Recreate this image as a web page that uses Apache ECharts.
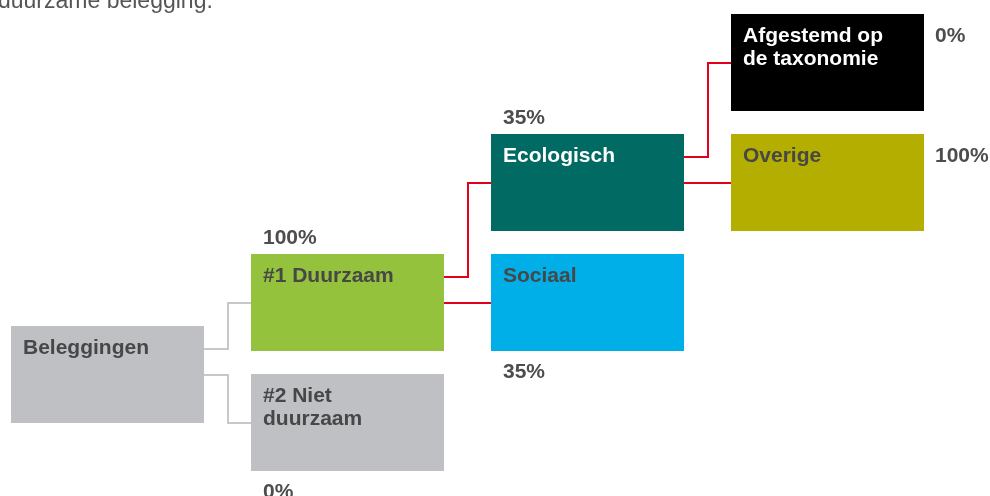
<!DOCTYPE html>
<html>
<head>
<meta charset="utf-8">
<script src="https://cdn.jsdelivr.net/npm/echarts@6/dist/echarts.min.js"></script>
<style>
  html, body { margin: 0; padding: 0; background: #ffffff; }
  #chart { width: 990px; height: 496px; }
</style>
</head>
<body>
<div id="chart"></div>
<script>
// boom-structuur: naam, kolom (niveau), rij, aandeel
const nodeNames = ['Beleggingen', '#1 Duurzaam', '#2 Niet\nduurzaam', 'Ecologisch', 'Sociaal', 'Afgestemd op\nde taxonomie', 'Overige'];
const nodeLevels = [0, 1, 1, 2, 2, 3, 3];
const nodeRows = [2.6, 2, 3, 1, 2, 0, 1];
const nodeShares = ['', '100%', '0%', '35%', '35%', '0%', '100%'];
const linkFrom = [0, 0, 1, 1, 3, 3];
const linkTo = [1, 2, 3, 4, 5, 6];

// stijl
const boxColors = ['#bec0c4', '#95c23d', '#bec0c4', '#006a63', '#00aee8', '#000000', '#b3ae00'];
const textColors = ['#474747', '#474747', '#474747', '#ffffff', '#474747', '#ffffff', '#474747'];
const sharePos = ['', 'top', 'bottom', 'top', 'bottom', 'right', 'right'];
const BOX_W = 193 / 240;
const BOX_H = 97 / 120;
const FONT = 'bold 21px "Liberation Sans", Arial, sans-serif';

const chart = echarts.init(document.getElementById('chart'));

function boxRect(api, i) {
  const p0 = api.coord([nodeLevels[i], nodeRows[i]]);
  const p1 = api.coord([nodeLevels[i] + BOX_W, nodeRows[i] + BOX_H]);
  return { x: p0[0], y: p0[1], w: p1[0] - p0[0], h: p1[1] - p0[1] };
}

function renderNode(params, api) {
  const i = params.dataIndex;
  const r = boxRect(api, i);
  const children = [
    {
      type: 'rect',
      shape: { x: r.x, y: r.y, width: r.w, height: r.h },
      style: { fill: boxColors[i] }
    },
    {
      type: 'text',
      x: r.x + 12,
      y: r.y + 11,
      style: {
        text: nodeNames[i],
        font: FONT,
        fill: textColors[i],
        lineHeight: 23,
        verticalAlign: 'top'
      }
    }
  ];
  if (nodeShares[i]) {
    let sx = r.x + 12, sy;
    if (sharePos[i] === 'top') sy = r.y - 16;
    else if (sharePos[i] === 'bottom') sy = r.y + r.h + 21;
    else { sx = r.x + r.w + 11; sy = r.y + 22; }
    children.push({
      type: 'text',
      x: sx,
      y: sy,
      style: { text: nodeShares[i], font: FONT, fill: '#4d4d4d', verticalAlign: 'middle' }
    });
  }
  return { type: 'group', children: children };
}

function renderLink(params, api) {
  const i = params.dataIndex;
  const a = boxRect(api, linkFrom[i]);
  const b = boxRect(api, linkTo[i]);
  const firstChild = linkFrom.indexOf(linkFrom[i]) === i;
  const y0 = Math.round(firstChild ? a.y + 23 : a.y + a.h / 2);
  const y1 = Math.round(b.y + b.h / 2);
  const x0 = a.x + a.w;
  const xm = Math.round((x0 + b.x) / 2);
  return {
    type: 'polyline',
    shape: { points: [[x0, y0], [xm, y0], [xm, y1], [b.x, y1]] },
    style: {
      fill: 'none',
      stroke: nodeLevels[linkFrom[i]] === 0 ? '#c6c8cb' : '#e2001a',
      lineWidth: 2
    }
  };
}

chart.setOption({
  animation: false,
  graphic: [
    {
      type: 'text',
      x: -2,
      y: 2,
      style: {
        text: 'duurzame belegging.',
        font: '23px "Liberation Sans", Arial, sans-serif',
        fill: '#555555',
        verticalAlign: 'middle'
      }
    }
  ],
  grid: { left: 11, top: 14, width: 960, height: 480 },
  xAxis: { type: 'value', min: 0, max: 4, show: false },
  yAxis: { type: 'value', min: 0, max: 4, inverse: true, show: false },
  series: [
    {
      type: 'custom',
      renderItem: renderLink,
      clip: false,
      silent: true,
      z: 1,
      data: linkFrom.map((f, i) => [f, linkTo[i]])
    },
    {
      type: 'custom',
      renderItem: renderNode,
      clip: false,
      silent: true,
      z: 2,
      data: nodeNames.map((n, i) => [nodeLevels[i], nodeRows[i]])
    }
  ]
});
</script>
</body>
</html>
